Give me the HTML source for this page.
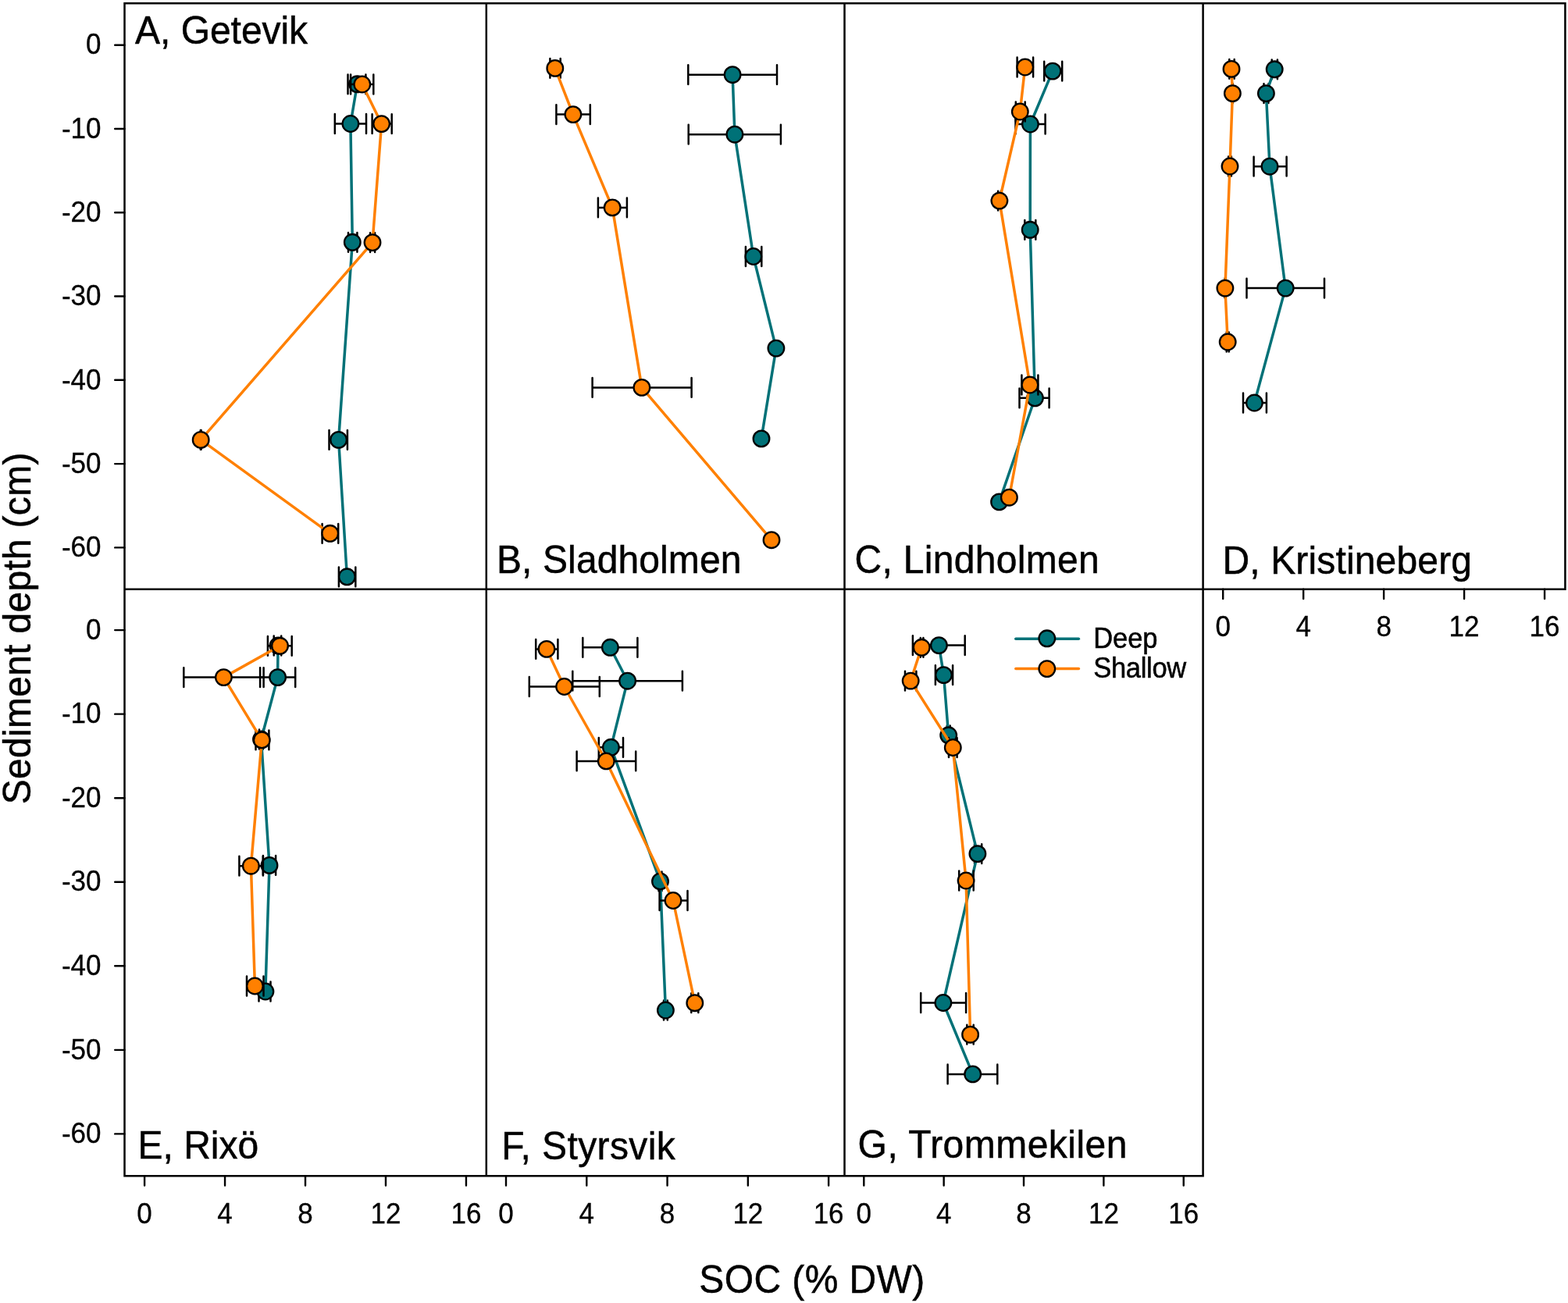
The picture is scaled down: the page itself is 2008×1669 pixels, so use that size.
<!DOCTYPE html>
<html><head><meta charset="utf-8"><title>SOC depth profiles</title>
<style>html,body{margin:0;padding:0;background:#fff;}body{width:2008px;height:1669px;overflow:hidden;}svg{display:block;}text{font-family:'Liberation Sans', Arial, Helvetica, sans-serif;fill:#000;stroke:#000;stroke-width:0.5px;}.tk text{stroke-width:0.3px;}</style>
</head><body>
<svg width="2008" height="1669" viewBox="0 0 2008 1669">
<rect x="0" y="0" width="2008" height="1669" fill="#fff"/>
<g>
<path d="M445.5 107.8H468.4M445.5 95.4V120.2M468.4 95.4V120.2M428.8 158.5H469M428.8 146.1V170.9M469 146.1V170.9M446 310.3H457.4M446 297.9V322.7M457.4 297.9V322.7M421.5 563.4H444.9M421.5 551V575.8M444.9 551V575.8M433.9 738.8H455.3M433.9 726.4V751.2M455.3 726.4V751.2" stroke="#000" stroke-width="2.5" fill="none" stroke-linecap="round"/>
<polyline points="457.5,107.8 448.9,158.5 451.3,310.3 433.6,563.4 444.4,738.8" stroke="#007177" stroke-width="3.5" fill="none" stroke-linejoin="round" stroke-linecap="round"/>
<g fill="#007177" stroke="#000" stroke-width="2.3"><circle cx="457.5" cy="107.8" r="10.3"/><circle cx="448.9" cy="158.5" r="10.3"/><circle cx="451.3" cy="310.3" r="10.3"/><circle cx="433.6" cy="563.4" r="10.3"/><circle cx="444.4" cy="738.8" r="10.3"/></g>
<path d="M449.1 108H478.3M449.1 95.6V120.4M478.3 95.6V120.4M476.6 158.6H501.7M476.6 146.2V171M501.7 146.2V171M474.1 310.6H480.1M474.1 298.2V323M480.1 298.2V323M256.8 563.4H257.6M256.8 551V575.8M257.6 551V575.8M412.6 683.3H433.2M412.6 670.9V695.7M433.2 670.9V695.7" stroke="#000" stroke-width="2.5" fill="none" stroke-linecap="round"/>
<polyline points="463.8,108 488.6,158.6 477,310.6 257.2,563.4 422.7,683.3" stroke="#FF8000" stroke-width="3.5" fill="none" stroke-linejoin="round" stroke-linecap="round"/>
<g fill="#FF8000" stroke="#000" stroke-width="2.3"><circle cx="463.8" cy="108" r="10.3"/><circle cx="488.6" cy="158.6" r="10.3"/><circle cx="477" cy="310.6" r="10.3"/><circle cx="257.2" cy="563.4" r="10.3"/><circle cx="422.7" cy="683.3" r="10.3"/></g>
</g>
<g>
<path d="M881.3 95.7H995M881.3 83.3V108.1M995 83.3V108.1M881.7 172.2H999.9M881.7 159.8V184.6M999.9 159.8V184.6M954.9 328.5H975.3M954.9 316.1V340.9M975.3 316.1V340.9" stroke="#000" stroke-width="2.5" fill="none" stroke-linecap="round"/>
<polyline points="938.1,95.7 940.9,172.2 964.8,328.5 993.9,446.1 975,561.9" stroke="#007177" stroke-width="3.5" fill="none" stroke-linejoin="round" stroke-linecap="round"/>
<g fill="#007177" stroke="#000" stroke-width="2.3"><circle cx="938.1" cy="95.7" r="10.3"/><circle cx="940.9" cy="172.2" r="10.3"/><circle cx="964.8" cy="328.5" r="10.3"/><circle cx="993.9" cy="446.1" r="10.3"/><circle cx="975" cy="561.9" r="10.3"/></g>
<path d="M704.4 87.4H717.7M704.4 75V99.8M717.7 75V99.8M712.4 146.6H755.8M712.4 134.2V159M755.8 134.2V159M765.9 265.9H802.9M765.9 253.5V278.3M802.9 253.5V278.3M758.6 496.4H885.6M758.6 484V508.8M885.6 484V508.8" stroke="#000" stroke-width="2.5" fill="none" stroke-linecap="round"/>
<polyline points="710.8,87.4 733.9,146.6 784.2,265.9 821.9,496.4 988,691.7" stroke="#FF8000" stroke-width="3.5" fill="none" stroke-linejoin="round" stroke-linecap="round"/>
<g fill="#FF8000" stroke="#000" stroke-width="2.3"><circle cx="710.8" cy="87.4" r="10.3"/><circle cx="733.9" cy="146.6" r="10.3"/><circle cx="784.2" cy="265.9" r="10.3"/><circle cx="821.9" cy="496.4" r="10.3"/><circle cx="988" cy="691.7" r="10.3"/></g>
</g>
<g>
<path d="M1337.2 91.1H1360.2M1337.2 78.7V103.5M1360.2 78.7V103.5M1300.5 159H1338.6M1300.5 146.6V171.4M1338.6 146.6V171.4M1312.3 294.3H1326.3M1312.3 281.9V306.7M1326.3 281.9V306.7M1305.5 509.8H1343.6M1305.5 497.4V522.2M1343.6 497.4V522.2" stroke="#000" stroke-width="2.5" fill="none" stroke-linecap="round"/>
<polyline points="1348,91.1 1319.4,159 1319.2,294.3 1325.4,509.8 1279.6,642.9" stroke="#007177" stroke-width="3.5" fill="none" stroke-linejoin="round" stroke-linecap="round"/>
<g fill="#007177" stroke="#000" stroke-width="2.3"><circle cx="1348" cy="91.1" r="10.3"/><circle cx="1319.4" cy="159" r="10.3"/><circle cx="1319.2" cy="294.3" r="10.3"/><circle cx="1325.4" cy="509.8" r="10.3"/><circle cx="1279.6" cy="642.9" r="10.3"/></g>
<path d="M1302.6 86H1323.1M1302.6 73.6V98.4M1323.1 73.6V98.4M1300.8 143H1312.7M1300.8 130.6V155.4M1312.7 130.6V155.4M1278.1 257.1H1281.8M1278.1 244.7V269.5M1281.8 244.7V269.5M1308.4 493H1329.4M1308.4 480.6V505.4M1329.4 480.6V505.4" stroke="#000" stroke-width="2.5" fill="none" stroke-linecap="round"/>
<polyline points="1312.7,86 1306.3,143 1279.9,257.1 1318.9,493 1292.4,637.2" stroke="#FF8000" stroke-width="3.5" fill="none" stroke-linejoin="round" stroke-linecap="round"/>
<g fill="#FF8000" stroke="#000" stroke-width="2.3"><circle cx="1312.7" cy="86" r="10.3"/><circle cx="1306.3" cy="143" r="10.3"/><circle cx="1279.9" cy="257.1" r="10.3"/><circle cx="1318.9" cy="493" r="10.3"/><circle cx="1292.4" cy="637.2" r="10.3"/></g>
</g>
<g>
<path d="M1628.7 88.8H1635.9M1628.7 76.4V101.2M1635.9 76.4V101.2M1618.5 119.6H1624.4M1618.5 107.2V132M1624.4 107.2V132M1605.6 213.2H1647.6M1605.6 200.8V225.6M1647.6 200.8V225.6M1596.5 369.1H1696M1596.5 356.7V381.5M1696 356.7V381.5M1592 516H1621.9M1592 503.6V528.4M1621.9 503.6V528.4" stroke="#000" stroke-width="2.5" fill="none" stroke-linecap="round"/>
<polyline points="1632.2,88.8 1621.4,119.6 1626,213.2 1646.2,369.1 1606.4,516" stroke="#007177" stroke-width="3.5" fill="none" stroke-linejoin="round" stroke-linecap="round"/>
<g fill="#007177" stroke="#000" stroke-width="2.3"><circle cx="1632.2" cy="88.8" r="10.3"/><circle cx="1621.4" cy="119.6" r="10.3"/><circle cx="1626" cy="213.2" r="10.3"/><circle cx="1646.2" cy="369.1" r="10.3"/><circle cx="1606.4" cy="516" r="10.3"/></g>
<path d="M1574.3 88.4H1580.7M1574.3 76V100.8M1580.7 76V100.8M1578 119.6H1578.8M1578 107.2V132M1578.8 107.2V132M1573.1 213H1576.9M1573.1 200.6V225.4M1576.9 200.6V225.4M1568.5 369.1H1569.3M1568.5 356.7V381.5M1569.3 356.7V381.5M1570.7 438H1573.7M1570.7 425.6V450.4M1573.7 425.6V450.4" stroke="#000" stroke-width="2.5" fill="none" stroke-linecap="round"/>
<polyline points="1577,88.4 1578.4,119.6 1575,213 1568.9,369.1 1572.2,438" stroke="#FF8000" stroke-width="3.5" fill="none" stroke-linejoin="round" stroke-linecap="round"/>
<g fill="#FF8000" stroke="#000" stroke-width="2.3"><circle cx="1577" cy="88.4" r="10.3"/><circle cx="1578.4" cy="119.6" r="10.3"/><circle cx="1575" cy="213" r="10.3"/><circle cx="1568.9" cy="369.1" r="10.3"/><circle cx="1572.2" cy="438" r="10.3"/></g>
</g>
<g>
<path d="M350.7 827H360.2M350.7 814.6V839.4M360.2 814.6V839.4M333.1 867.6H378.2M333.1 855.2V880M378.2 855.2V880M332 947H337M332 934.6V959.4M337 934.6V959.4M336.9 1108.4H353.1M336.9 1096V1120.8M353.1 1096V1120.8M331.5 1270H346.5M331.5 1257.6V1282.4M346.5 1257.6V1282.4" stroke="#000" stroke-width="2.5" fill="none" stroke-linecap="round"/>
<polyline points="356,827 355.6,867.6 334.5,947 345,1108.4 339.9,1270" stroke="#007177" stroke-width="3.5" fill="none" stroke-linejoin="round" stroke-linecap="round"/>
<g fill="#007177" stroke="#000" stroke-width="2.3"><circle cx="356" cy="827" r="10.3"/><circle cx="355.6" cy="867.6" r="10.3"/><circle cx="334.5" cy="947" r="10.3"/><circle cx="345" cy="1108.4" r="10.3"/><circle cx="339.9" cy="1270" r="10.3"/></g>
<path d="M342.9 827.3H373.7M342.9 814.9V839.7M373.7 814.9V839.7M235.3 867.6H337.6M235.3 855.2V880M337.6 855.2V880M327.5 947.9H344.4M327.5 935.5V960.3M344.4 935.5V960.3M306.4 1109.2H336.9M306.4 1096.8V1121.6M336.9 1096.8V1121.6M316 1263H337.5M316 1250.6V1275.4M337.5 1250.6V1275.4" stroke="#000" stroke-width="2.5" fill="none" stroke-linecap="round"/>
<polyline points="358.5,827.3 286.4,867.6 335.3,947.9 321.4,1109.2 326.4,1263" stroke="#FF8000" stroke-width="3.5" fill="none" stroke-linejoin="round" stroke-linecap="round"/>
<g fill="#FF8000" stroke="#000" stroke-width="2.3"><circle cx="358.5" cy="827.3" r="10.3"/><circle cx="286.4" cy="867.6" r="10.3"/><circle cx="335.3" cy="947.9" r="10.3"/><circle cx="321.4" cy="1109.2" r="10.3"/><circle cx="326.4" cy="1263" r="10.3"/></g>
</g>
<g>
<path d="M746.3 829.3H816.4M746.3 816.9V841.7M816.4 816.9V841.7M733.3 872.2H873.9M733.3 859.8V884.6M873.9 859.8V884.6M766.8 957.3H798M766.8 944.9V969.7M798 944.9V969.7M843.5 1128.9H847.5M843.5 1116.5V1141.3M847.5 1116.5V1141.3M850 1294H854.8M850 1281.6V1306.4M854.8 1281.6V1306.4" stroke="#000" stroke-width="2.5" fill="none" stroke-linecap="round"/>
<polyline points="781.4,829.3 803.6,872.2 782.4,957.3 845.5,1128.9 852.4,1294" stroke="#007177" stroke-width="3.5" fill="none" stroke-linejoin="round" stroke-linecap="round"/>
<g fill="#007177" stroke="#000" stroke-width="2.3"><circle cx="781.4" cy="829.3" r="10.3"/><circle cx="803.6" cy="872.2" r="10.3"/><circle cx="782.4" cy="957.3" r="10.3"/><circle cx="845.5" cy="1128.9" r="10.3"/><circle cx="852.4" cy="1294" r="10.3"/></g>
<path d="M686.2 831.4H714.4M686.2 819V843.8M714.4 819V843.8M677.8 879.5H767.8M677.8 867.1V891.9M767.8 867.1V891.9M738.6 974.9H814.2M738.6 962.5V987.3M814.2 962.5V987.3M844.6 1153.5H880.5M844.6 1141.1V1165.9M880.5 1141.1V1165.9M885.3 1284.7H894.3M885.3 1272.3V1297.1M894.3 1272.3V1297.1" stroke="#000" stroke-width="2.5" fill="none" stroke-linecap="round"/>
<polyline points="700,831.4 722.6,879.5 776.3,974.9 862,1153.5 889.8,1284.7" stroke="#FF8000" stroke-width="3.5" fill="none" stroke-linejoin="round" stroke-linecap="round"/>
<g fill="#FF8000" stroke="#000" stroke-width="2.3"><circle cx="700" cy="831.4" r="10.3"/><circle cx="722.6" cy="879.5" r="10.3"/><circle cx="776.3" cy="974.9" r="10.3"/><circle cx="862" cy="1153.5" r="10.3"/><circle cx="889.8" cy="1284.7" r="10.3"/></g>
</g>
<g>
<path d="M1168.9 826.6H1235.7M1168.9 814.2V839M1235.7 814.2V839M1197.9 864.6H1220.1M1197.9 852.2V877M1220.1 852.2V877M1212.7 941.8H1216.7M1212.7 929.4V954.2M1216.7 929.4V954.2M1248 1093.6H1257.2M1248 1081.2V1106M1257.2 1081.2V1106M1179.2 1284.5H1237.1M1179.2 1272.1V1296.9M1237.1 1272.1V1296.9M1213.6 1375.9H1277.3M1213.6 1363.5V1388.3M1277.3 1363.5V1388.3" stroke="#000" stroke-width="2.5" fill="none" stroke-linecap="round"/>
<polyline points="1202.4,826.6 1208.5,864.6 1214.7,941.8 1251.9,1093.6 1207.9,1284.5 1245.7,1375.9" stroke="#007177" stroke-width="3.5" fill="none" stroke-linejoin="round" stroke-linecap="round"/>
<g fill="#007177" stroke="#000" stroke-width="2.3"><circle cx="1202.4" cy="826.6" r="10.3"/><circle cx="1208.5" cy="864.6" r="10.3"/><circle cx="1214.7" cy="941.8" r="10.3"/><circle cx="1251.9" cy="1093.6" r="10.3"/><circle cx="1207.9" cy="1284.5" r="10.3"/><circle cx="1245.7" cy="1375.9" r="10.3"/></g>
<path d="M1178.8 829.3H1182.4M1178.8 816.9V841.7M1182.4 816.9V841.7M1159 872.1H1173.4M1159 859.7V884.5M1173.4 859.7V884.5M1215 957.5H1225.6M1215 945.1V969.9M1225.6 945.1V969.9M1228.2 1128H1246.7M1228.2 1115.6V1140.4M1246.7 1115.6V1140.4M1238.3 1325.2H1246.7M1238.3 1312.8V1337.6M1246.7 1312.8V1337.6" stroke="#000" stroke-width="2.5" fill="none" stroke-linecap="round"/>
<polyline points="1180.2,829.3 1166.2,872.1 1220.3,957.5 1237.1,1128 1242.6,1325.2" stroke="#FF8000" stroke-width="3.5" fill="none" stroke-linejoin="round" stroke-linecap="round"/>
<g fill="#FF8000" stroke="#000" stroke-width="2.3"><circle cx="1180.2" cy="829.3" r="10.3"/><circle cx="1166.2" cy="872.1" r="10.3"/><circle cx="1220.3" cy="957.5" r="10.3"/><circle cx="1237.1" cy="1128" r="10.3"/><circle cx="1242.6" cy="1325.2" r="10.3"/></g>
</g>
<path d="M159.5 4.3H2004.4M159.5 754.7H2004.4M159.5 1506.3H1540.6M159.5 4.3V1506.3M622.8 4.3V1506.3M1081.5 4.3V1506.3M1540.6 4.3V1506.3M2004.4 4.3V754.7" stroke="#000" stroke-width="2.5" fill="none" stroke-linecap="square"/>
<path d="M147.2 57.7H159.5M147.2 164.98H159.5M147.2 272.26H159.5M147.2 379.54H159.5M147.2 486.82H159.5M147.2 594.1H159.5M147.2 701.38H159.5M147.2 807.1H159.5M147.2 914.65H159.5M147.2 1022.2H159.5M147.2 1129.75H159.5M147.2 1237.3H159.5M147.2 1344.85H159.5M147.2 1452.4H159.5M185.1 1506.3V1518.6M288.06 1506.3V1518.6M391.02 1506.3V1518.6M493.98 1506.3V1518.6M596.94 1506.3V1518.6M648 1506.3V1518.6M751.28 1506.3V1518.6M854.56 1506.3V1518.6M957.84 1506.3V1518.6M1061.12 1506.3V1518.6M1106.3 1506.3V1518.6M1208.66 1506.3V1518.6M1311.02 1506.3V1518.6M1413.38 1506.3V1518.6M1515.74 1506.3V1518.6M1566.2 754.7V767M1669.16 754.7V767M1772.12 754.7V767M1875.08 754.7V767M1978.04 754.7V767" stroke="#000" stroke-width="2.4" fill="none" stroke-linecap="round"/>
<g class="tk" font-size="35"><text transform="translate(129.5 69.4) scale(1 1.03)" text-anchor="end">0</text><text transform="translate(129.5 176.68) scale(1 1.03)" text-anchor="end">-10</text><text transform="translate(129.5 283.96) scale(1 1.03)" text-anchor="end">-20</text><text transform="translate(129.5 391.24) scale(1 1.03)" text-anchor="end">-30</text><text transform="translate(129.5 498.52) scale(1 1.03)" text-anchor="end">-40</text><text transform="translate(129.5 605.8) scale(1 1.03)" text-anchor="end">-50</text><text transform="translate(129.5 713.08) scale(1 1.03)" text-anchor="end">-60</text><text transform="translate(129.5 818.8) scale(1 1.03)" text-anchor="end">0</text><text transform="translate(129.5 926.35) scale(1 1.03)" text-anchor="end">-10</text><text transform="translate(129.5 1033.9) scale(1 1.03)" text-anchor="end">-20</text><text transform="translate(129.5 1141.45) scale(1 1.03)" text-anchor="end">-30</text><text transform="translate(129.5 1249) scale(1 1.03)" text-anchor="end">-40</text><text transform="translate(129.5 1356.55) scale(1 1.03)" text-anchor="end">-50</text><text transform="translate(129.5 1464.1) scale(1 1.03)" text-anchor="end">-60</text><text transform="translate(185.1 1566.5) scale(1 1.03)" text-anchor="middle">0</text><text transform="translate(288.06 1566.5) scale(1 1.03)" text-anchor="middle">4</text><text transform="translate(391.02 1566.5) scale(1 1.03)" text-anchor="middle">8</text><text transform="translate(493.98 1566.5) scale(1 1.03)" text-anchor="middle">12</text><text transform="translate(596.94 1566.5) scale(1 1.03)" text-anchor="middle">16</text><text transform="translate(648 1566.5) scale(1 1.03)" text-anchor="middle">0</text><text transform="translate(751.28 1566.5) scale(1 1.03)" text-anchor="middle">4</text><text transform="translate(854.56 1566.5) scale(1 1.03)" text-anchor="middle">8</text><text transform="translate(957.84 1566.5) scale(1 1.03)" text-anchor="middle">12</text><text transform="translate(1061.12 1566.5) scale(1 1.03)" text-anchor="middle">16</text><text transform="translate(1106.3 1566.5) scale(1 1.03)" text-anchor="middle">0</text><text transform="translate(1208.66 1566.5) scale(1 1.03)" text-anchor="middle">4</text><text transform="translate(1311.02 1566.5) scale(1 1.03)" text-anchor="middle">8</text><text transform="translate(1413.38 1566.5) scale(1 1.03)" text-anchor="middle">12</text><text transform="translate(1515.74 1566.5) scale(1 1.03)" text-anchor="middle">16</text><text transform="translate(1566.2 814.9) scale(1 1.03)" text-anchor="middle">0</text><text transform="translate(1669.16 814.9) scale(1 1.03)" text-anchor="middle">4</text><text transform="translate(1772.12 814.9) scale(1 1.03)" text-anchor="middle">8</text><text transform="translate(1875.08 814.9) scale(1 1.03)" text-anchor="middle">12</text><text transform="translate(1978.04 814.9) scale(1 1.03)" text-anchor="middle">16</text></g>
<text transform="translate(173.1 56.1) scale(1 1.045)" font-size="48" textLength="221.02" lengthAdjust="spacing">A, Getevik</text>
<text transform="translate(636 733.6) scale(1 1.045)" font-size="48" textLength="313.39" lengthAdjust="spacing">B, Sladholmen</text>
<text transform="translate(1094.5 734) scale(1 1.045)" font-size="48" textLength="313.32" lengthAdjust="spacing">C, Lindholmen</text>
<text transform="translate(1565.4 735) scale(1 1.045)" font-size="48" textLength="319.57" lengthAdjust="spacing">D, Kristineberg</text>
<text transform="translate(176.5 1483.5) scale(1 1.045)" font-size="48" textLength="154.72" lengthAdjust="spacing">E, Rixö</text>
<text transform="translate(642.2 1484.8) scale(1 1.045)" font-size="48" textLength="222.57" lengthAdjust="spacing">F, Styrsvik</text>
<text transform="translate(1098.6 1482.6) scale(1 1.045)" font-size="48" textLength="344.75" lengthAdjust="spacing">G, Trommekilen</text>
<path d="M1300.8 818.2H1381.4" stroke="#007177" stroke-width="3.5" stroke-linecap="round"/>
<path d="M1300.8 856.6H1381.4" stroke="#FF8000" stroke-width="3.5" stroke-linecap="round"/>
<circle cx="1340.8" cy="817.8" r="10.3" fill="#007177" stroke="#000" stroke-width="2.3"/>
<circle cx="1340.8" cy="856.6" r="10.3" fill="#FF8000" stroke="#000" stroke-width="2.3"/>
<text transform="translate(1400.2 829.5) scale(1 1.045)" font-size="34.5" textLength="82.28" lengthAdjust="spacing">Deep</text>
<text transform="translate(1400.2 867.9) scale(1 1.045)" font-size="34.5" textLength="119.03" lengthAdjust="spacing">Shallow</text>
<text transform="translate(895.2 1655.6) scale(1 1.045)" font-size="48" textLength="289.11" lengthAdjust="spacing">SOC (% DW)</text>
<text transform="translate(38.6 1030.3) rotate(-90) scale(1 1.045)" font-size="48" textLength="450.73" lengthAdjust="spacing">Sediment depth (cm)</text>
</svg>
</body></html>
